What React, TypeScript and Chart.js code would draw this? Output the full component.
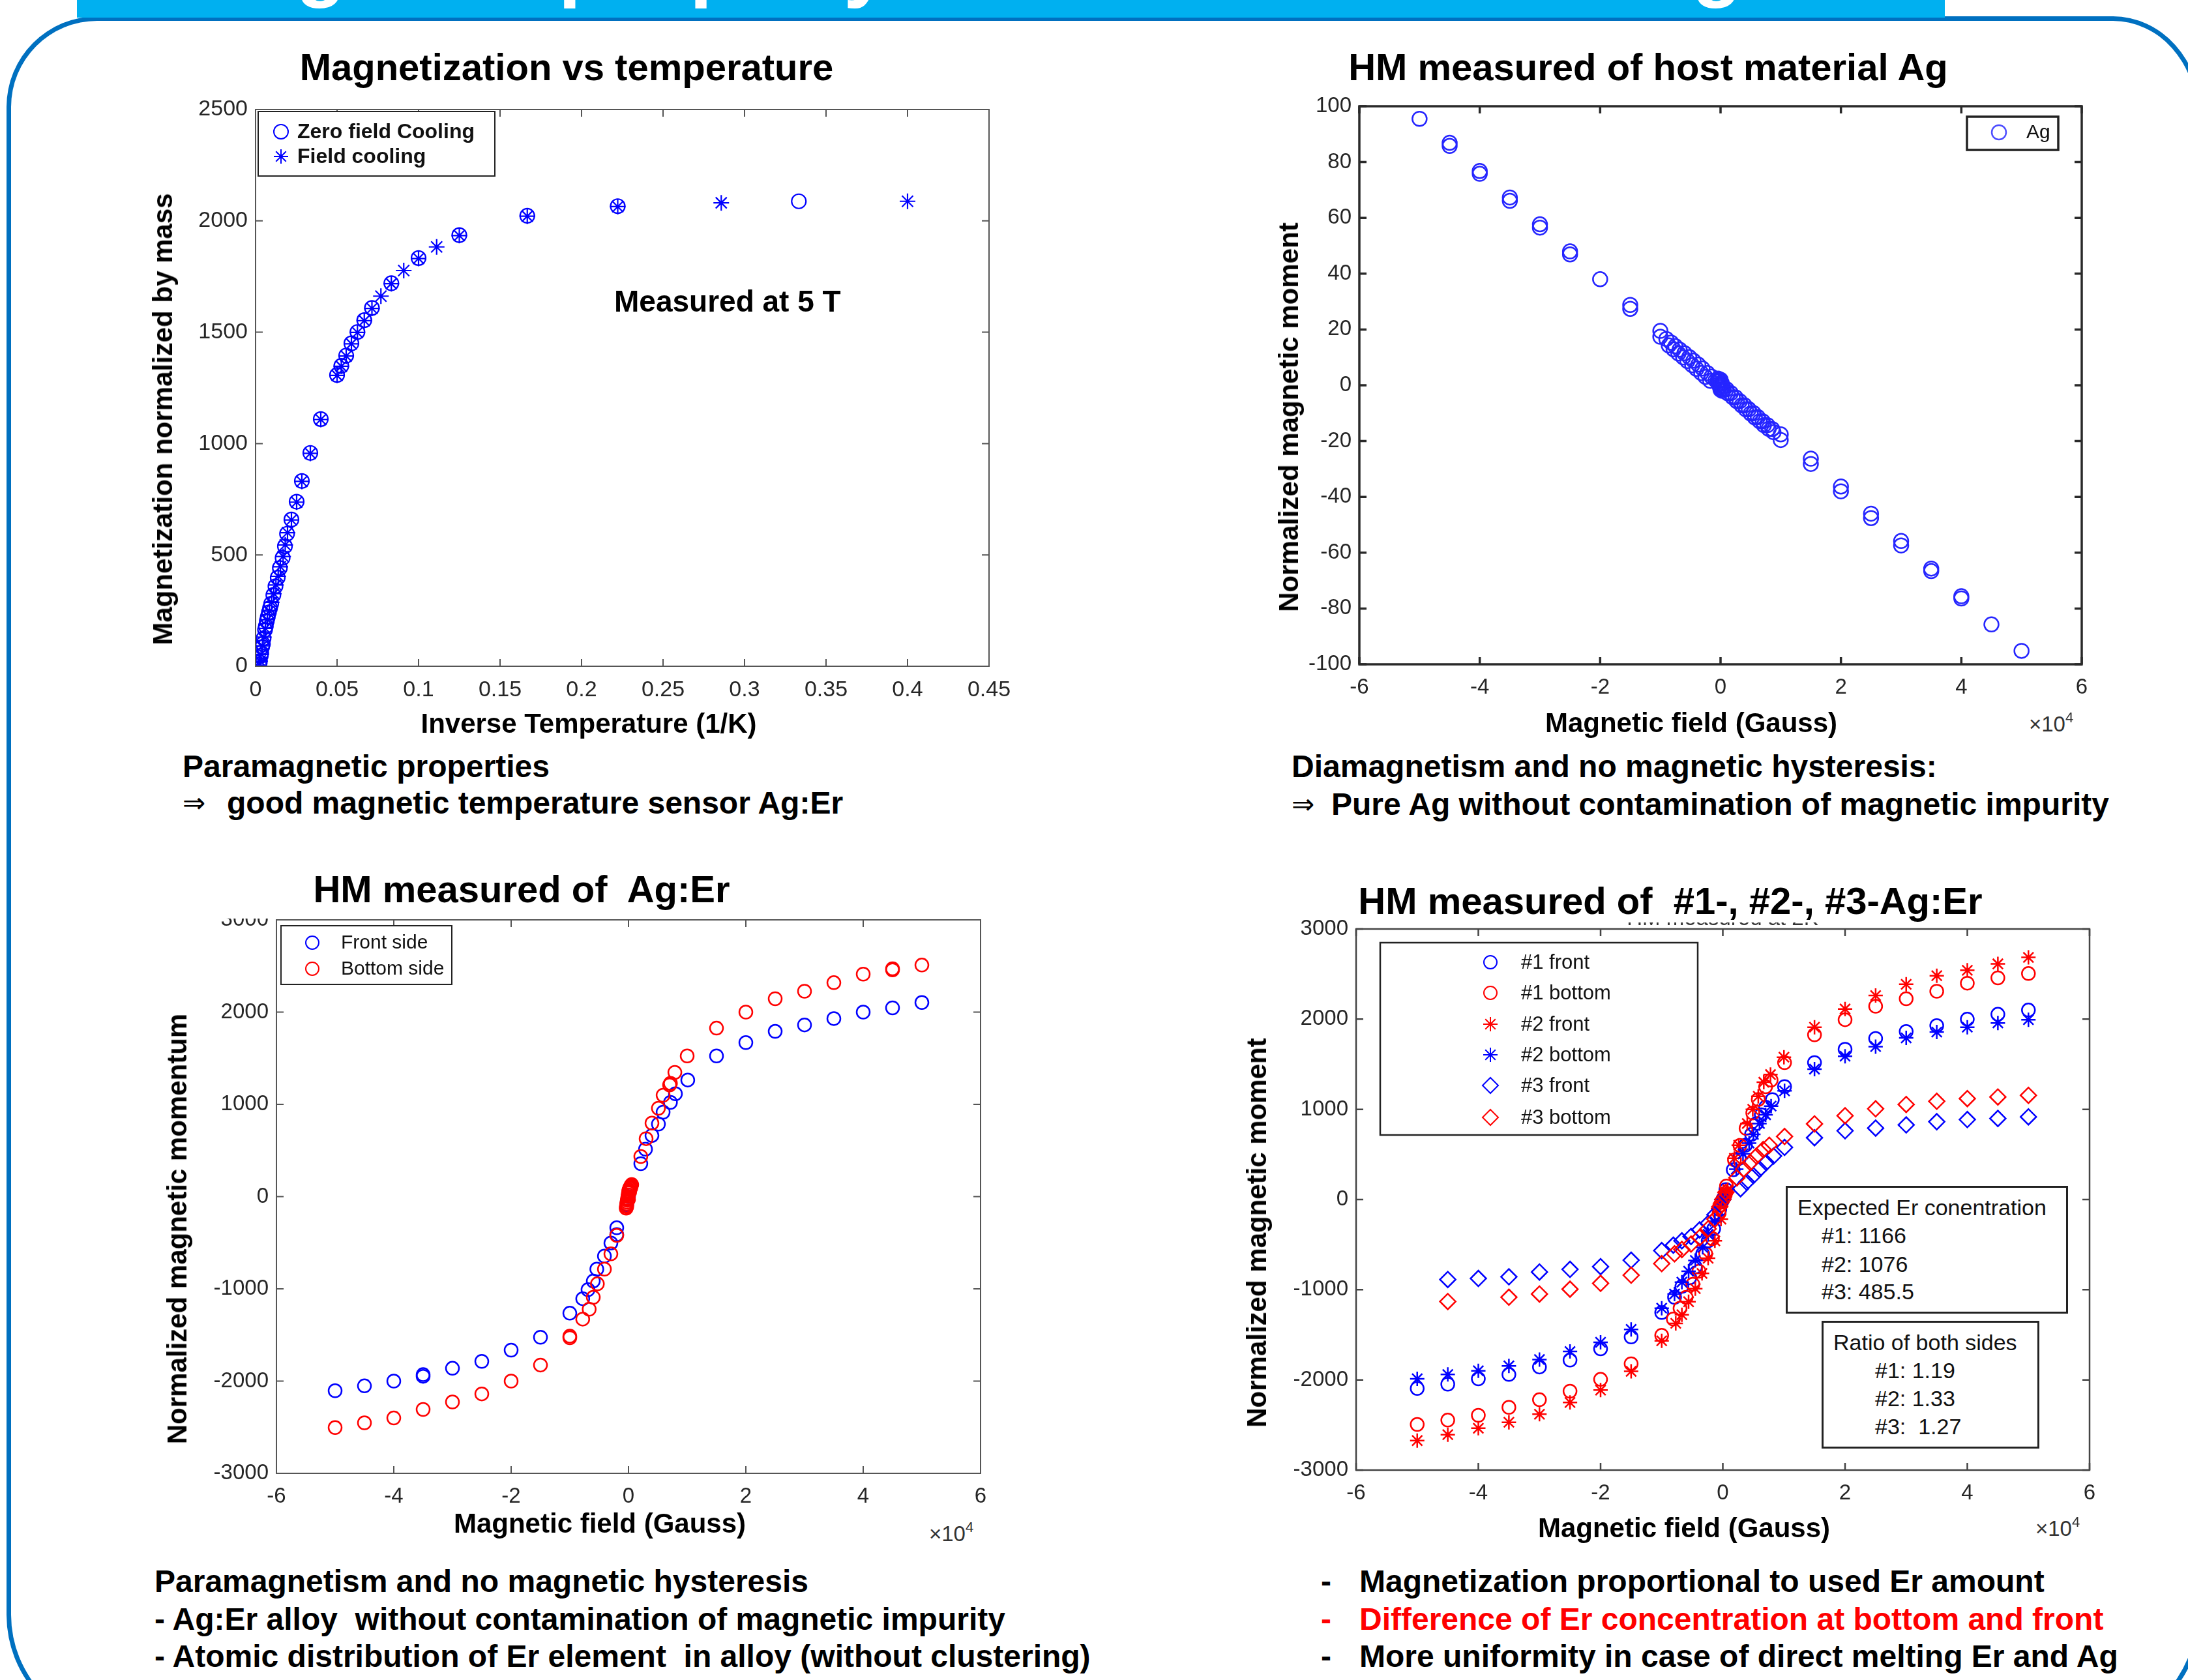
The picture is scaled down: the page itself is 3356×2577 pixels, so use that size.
import React, { useEffect, useRef } from 'react';
import { Chart, registerables } from 'chart.js';

Chart.register(...registerables);

type Pt = [number, number];
type Mk = 'circle' | 'star' | 'rectRot';

const BLUE = '#0000ff';
const RED = '#ff0000';
const FONT = "'Liberation Sans', Arial, Helvetica, sans-serif";

// ---------------- Chart 1 : Magnetization vs temperature ----------------
const c1XTicks = [0, 0.05, 0.1, 0.15, 0.2, 0.25, 0.3, 0.35, 0.4, 0.45];
const c1XLabels = ['0', '0.05', '0.1', '0.15', '0.2', '0.25', '0.3', '0.35', '0.4', '0.45'];
const c1YTicks = [0, 500, 1000, 1500, 2000, 2500];
const c1YLabels = ['0', '500', '1000', '1500', '2000', '2500'];
const c1ZeroFieldCooling: Pt[] = [
  [0.3333, 2088], [0.2222, 2066], [0.1667, 2023], [0.125, 1936], [0.1, 1833], [0.0833, 1720],
  [0.0714, 1609], [0.0667, 1554], [0.0625, 1501], [0.0588, 1450], [0.0556, 1395], [0.0526, 1349],
  [0.05, 1308], [0.04, 1110], [0.0336, 958], [0.0284, 832], [0.0252, 739], [0.022, 659],
  [0.0193, 595], [0.018, 539], [0.0166, 487], [0.0149, 441], [0.0136, 398], [0.0122, 359],
  [0.0109, 320], [0.0096, 281], [0.0089, 262], [0.0082, 242], [0.0075, 222], [0.0069, 203],
  [0.0063, 180], [0.0058, 164], [0.0049, 125], [0.0045, 100], [0.004, 86], [0.0035, 60],
  [0.0032, 47], [0.0026, 18], [0.0022, 8],
];
const c1FieldCooling: Pt[] = [
  [0.4, 2088], [0.2857, 2081], [0.2222, 2064], [0.1667, 2021], [0.125, 1934], [0.1111, 1883],
  [0.1, 1831], [0.0909, 1777], [0.0833, 1718], [0.0769, 1662], [0.0714, 1607], [0.0667, 1552],
  [0.0625, 1499], [0.0588, 1448], [0.0556, 1393], [0.0526, 1347], [0.05, 1306], [0.04, 1108],
  [0.0336, 956], [0.0284, 830], [0.0252, 737], [0.022, 657], [0.0196, 600], [0.0182, 545],
  [0.0169, 493], [0.0152, 447], [0.0139, 404], [0.0125, 365], [0.0112, 326], [0.0099, 287],
  [0.0085, 248], [0.0072, 209], [0.006, 170], [0.0051, 131], [0.0042, 92], [0.0034, 53],
  [0.0028, 24], [0.0024, 5],
];

// ---------------- Chart 2 : host material Ag ----------------
const fieldTicks = [-6, -4, -2, 0, 2, 4, 6];
const fieldLabels = ['-6', '-4', '-2', '0', '2', '4', '6'];
const c2YTicks = [-100, -80, -60, -40, -20, 0, 20, 40, 60, 80, 100];
const c2YLabels = ['-100', '-80', '-60', '-40', '-20', '0', '20', '40', '60', '80', '100'];
const c2Ag: Pt[] = [
  [-5, 95.5], [-4.5, 85.8], [-4.5, 86.9], [-4, 75.8], [-4, 76.8], [-3.5, 66.1], [-3.5, 67.3],
  [-3, 56.5], [-3, 57.7], [-2.5, 46.9], [-2.5, 48.0], [-2, 38.0], [-1.5, 27.4], [-1.5, 28.8],
  [-1, 17.4], [-1, 19.5],
  [-0.9, 16.6], [-0.82, 15.3], [-0.75, 14.0], [-0.68, 12.8], [-0.6, 11.5], [-0.52, 10.1],
  [-0.45, 8.8], [-0.37, 7.4], [-0.3, 6.0], [-0.22, 4.4], [-0.15, 3.1], [-0.08, 1.8],
  [-0.86, 14.3], [-0.78, 12.9], [-0.7, 11.4], [-0.62, 10.0], [-0.55, 8.7], [-0.47, 7.2],
  [-0.4, 5.9], [-0.32, 4.4], [-0.25, 3.0], [-0.17, 1.6],
  [-0.05, 1.2], [-0.04, 2.4], [-0.03, 0.4], [-0.02, 1.6], [-0.01, -0.6], [0, 0], [0, 2.0],
  [0, -1.6], [0.01, 0.6], [0.02, -1.2], [0.02, 0.8], [0.03, -2.0], [0.04, -0.4], [0.05, -1.4],
  [0.1, -1.4], [0.17, -2.8], [0.25, -4.3], [0.32, -5.7], [0.4, -7.2], [0.47, -8.6], [0.55, -10.0],
  [0.62, -11.4], [0.7, -12.9], [0.78, -14.3], [0.86, -15.7],
  [0.12, -2.9], [0.2, -4.3], [0.27, -5.7], [0.35, -7.2], [0.42, -8.6], [0.5, -10.1], [0.57, -11.5],
  [0.65, -12.9], [0.72, -14.3], [0.8, -15.6], [0.88, -16.8],
  [1, -17.6], [1, -19.6], [1.5, -26.3], [1.5, -28.2], [2, -36.3], [2, -38.0], [2.5, -46.0],
  [2.5, -47.6], [3, -55.8], [3, -57.4], [3.5, -65.7], [3.5, -66.6], [4, -75.6], [4, -76.4],
  [4.5, -85.7], [5, -95.2],
];

// ---------------- Chart 3 : Ag:Er ----------------
const c34YTicks = [-3000, -2000, -1000, 0, 1000, 2000, 3000];
const c34YLabels = ['-3000', '-2000', '-1000', '0', '1000', '2000', '3000'];
const c3FrontSide: Pt[] = [
  [-5, -2104], [-4.5, -2052], [-4, -2000], [-3.5, -1930], [-3.5, -1948], [-3, -1861], [-2.5, -1786],
  [-2, -1664], [-1.5, -1525], [-1, -1264], [-0.78, -1107], [-0.69, -1009], [-0.6, -916],
  [-0.54, -786], [-0.41, -645], [-0.3, -503], [-0.2, -338], [-0.2, -412],
  [-0.03, -90], [0, 0], [0.03, 90],
  [0.21, 357], [0.29, 514], [0.4, 663], [0.51, 786], [0.59, 915], [0.715, 1021], [0.8, 1115],
  [1.01, 1264], [1.5, 1525], [2, 1670], [2.5, 1791], [3, 1861], [3.5, 1930], [4, 2000],
  [4.5, 2046], [5, 2104],
];
const c3BottomSide: Pt[] = [
  [-5, -2504], [-4.5, -2452], [-4, -2400], [-3.5, -2307], [-3, -2226], [-2.5, -2139], [-2, -2000],
  [-1.5, -1826], [-1, -1513], [-1, -1530], [-0.78, -1328], [-0.67, -1221], [-0.6, -1092],
  [-0.53, -946], [-0.41, -786], [-0.3, -621], [-0.2, -420],
  [-0.04, -125], [-0.035, -100], [-0.03, -80], [-0.025, -60], [-0.02, -40], [-0.015, -20],
  [-0.01, 0], [-0.005, 20], [0, 40], [0.005, 60], [0.01, 75], [0.02, 90], [0.03, 105],
  [0.04, 115], [0.05, 125], [0.055, 130], [-0.03, -110], [0, -30], [0.02, 50], [0.04, 95],
  [0.21, 435], [0.3, 628], [0.4, 797], [0.51, 958], [0.59, 1099], [0.7, 1210], [0.715, 1228],
  [0.79, 1346], [1.0, 1525], [1.5, 1826], [2, 2000], [2.5, 2145], [3, 2226], [3.5, 2319],
  [4, 2412], [4.5, 2458], [4.5, 2470], [5, 2510],
];

// ---------------- Chart 4 : #1, #2, #3 Ag:Er ----------------
const c4Front1: Pt[] = [
  [-5, -2095], [-4.5, -2048], [-4, -1988], [-3.5, -1940], [-3, -1857], [-2.5, -1780], [-2, -1655],
  [-1.5, -1524], [-1, -1253], [-0.79, -1084], [-0.67, -964], [-0.54, -867], [-0.45, -747],
  [-0.33, -602], [-0.24, -458], [-0.15, -325], [-0.05, -110], [0, 0], [0.05, 110],
  [0.17, 330], [0.27, 458], [0.37, 602], [0.47, 723], [0.55, 843], [0.63, 940], [0.7, 1024],
  [0.81, 1108], [1.01, 1253], [1.5, 1518], [2, 1667], [2.5, 1786], [3, 1863], [3.5, 1929],
  [4, 2000], [4.5, 2054], [5, 2101],
];
const c4Bottom1: Pt[] = [
  [-5, -2494], [-4.5, -2446], [-4, -2393], [-3.5, -2304], [-3, -2220], [-2.5, -2125], [-2, -1994],
  [-1.5, -1821], [-1, -1506], [-0.81, -1325], [-0.7, -1205], [-0.6, -1084], [-0.49, -940],
  [-0.39, -795], [-0.28, -602], [-0.17, -434], [-0.06, -150], [-0.04, -60], [-0.02, -30], [0, 0],
  [0.02, 25], [0.04, 55], [0.06, 150],
  [0.19, 440], [0.28, 600], [0.38, 790], [0.49, 960], [0.58, 1110], [0.7, 1250], [0.79, 1325],
  [1.01, 1518], [1.5, 1827], [2, 1994], [2.5, 2143], [3, 2226], [3.5, 2310], [4, 2399],
  [4.5, 2458], [5, 2506],
];
const c4Front2: Pt[] = [
  [-5, -2673], [-4.5, -2607], [-4, -2536], [-3.5, -2470], [-3, -2381], [-2.5, -2250], [-2, -2113],
  [-1.5, -1905], [-1, -1566], [-0.77, -1373], [-0.67, -1277], [-0.56, -1133], [-0.45, -988],
  [-0.34, -819], [-0.24, -651], [-0.13, -458], [-0.03, -217], [-0.08, -100], [-0.04, -40],
  [0, 0], [0.02, 30], [0.04, 60], [0.06, 85], [0.08, 110],
  [0.19, 458], [0.26, 602], [0.4, 843], [0.49, 1000], [0.58, 1144], [0.67, 1301], [0.78, 1386],
  [1.0, 1578], [1.5, 1911], [2, 2113], [2.5, 2262], [3, 2387], [3.5, 2482], [4, 2542],
  [4.5, 2613], [5, 2685],
];
const c4Bottom2: Pt[] = [
  [-5, -1988], [-4.5, -1940], [-4, -1899], [-3.5, -1845], [-3, -1774], [-2.5, -1685], [-2, -1583],
  [-1.5, -1440], [-1, -1205], [-0.79, -1048], [-0.67, -916], [-0.56, -795], [-0.45, -675],
  [-0.33, -530], [-0.24, -386], [-0.13, -241], [0, 0],
  [0.22, 337], [0.33, 506], [0.43, 626], [0.5, 723], [0.6, 843], [0.7, 940], [0.79, 1036],
  [1.01, 1205], [1.5, 1446], [2, 1589], [2.5, 1696], [3, 1792], [3.5, 1857], [4, 1911],
  [4.5, 1958], [5, 1994],
];
const c4Front3: Pt[] = [
  [-4.5, -887], [-4, -875], [-3.5, -857], [-3, -804], [-2.5, -774], [-2, -744], [-1.5, -673],
  [-1, -566], [-0.81, -506], [-0.67, -458], [-0.52, -410], [-0.38, -337], [-0.24, -265],
  [-0.13, -169], [0, 0],
  [0.29, 120], [0.39, 193], [0.5, 265], [0.6, 337], [0.71, 410], [0.83, 482], [1.01, 578],
  [1.5, 685], [2, 762], [2.5, 792], [3, 827], [3.5, 863], [4, 887], [4.5, 899], [5, 917],
];
const c4Bottom3: Pt[] = [
  [-4.5, -1131], [-3.5, -1083], [-3, -1048], [-2.5, -994], [-2, -929], [-1.5, -839], [-1, -711],
  [-0.79, -602], [-0.67, -554], [-0.52, -494], [-0.38, -422], [-0.24, -325], [-0.13, -217],
  [-0.05, -80], [0, 0], [0.05, 80],
  [0.23, 241], [0.34, 337], [0.45, 410], [0.55, 482], [0.66, 554], [0.76, 602], [1.01, 699],
  [1.5, 839], [2, 929], [2.5, 1006], [3, 1054], [3.5, 1089], [4, 1119], [4.5, 1137], [5, 1155],
];

// ---------------- generic MATLAB-like scatter ----------------
interface Series { data: Pt[]; mk: Mk; color: string; r: number; bw: number; }
interface LegendItem { label: string; mk: Mk; color: string; r: number; bw: number; y: number; }
interface Legend {
  x1: number; y1: number; x2: number; y2: number; markerX: number; textX: number;
  fs: number; bold: boolean; lw: number; items: LegendItem[];
}
interface Plot {
  l: number; t: number; r: number; b: number;
  xMin: number; xMax: number; xTicks: number[]; xLabels: string[];
  yMin: number; yMax: number; yTicks: number[]; yLabels: string[];
  tickFs: number; boxColor: string; boxW: number; tickLen: number;
  series: Series[]; legend: Legend;
}

const PL = 150, PT = 40, PR = 70, PB = 70;

function drawMarker(ctx: CanvasRenderingContext2D, mk: Mk, x: number, y: number, r: number) {
  ctx.beginPath();
  if (mk === 'circle') {
    ctx.arc(x, y, r, 0, Math.PI * 2);
  } else if (mk === 'rectRot') {
    ctx.moveTo(x, y - r); ctx.lineTo(x + r, y); ctx.lineTo(x, y + r); ctx.lineTo(x - r, y); ctx.closePath();
  } else {
    const d = r * Math.SQRT1_2;
    ctx.moveTo(x - r, y); ctx.lineTo(x + r, y); ctx.moveTo(x, y - r); ctx.lineTo(x, y + r);
    ctx.moveTo(x - d, y - d); ctx.lineTo(x + d, y + d); ctx.moveTo(x - d, y + d); ctx.lineTo(x + d, y - d);
  }
  ctx.stroke();
}

function framePlugin(p: Plot) {
  return {
    id: 'matFrame',
    afterDraw(chart: any) {
      const { ctx, chartArea: a, scales } = chart;
      const ox = p.l - PL, oy = p.t - PT;
      ctx.save();
      ctx.strokeStyle = p.boxColor;
      ctx.lineWidth = p.boxW;
      ctx.beginPath();
      for (const v of p.xTicks) {
        const px = scales.x.getPixelForValue(v);
        ctx.moveTo(px, a.bottom); ctx.lineTo(px, a.bottom - p.tickLen);
        ctx.moveTo(px, a.top); ctx.lineTo(px, a.top + p.tickLen);
      }
      for (const v of p.yTicks) {
        const py = scales.y.getPixelForValue(v);
        ctx.moveTo(a.left, py); ctx.lineTo(a.left + p.tickLen, py);
        ctx.moveTo(a.right, py); ctx.lineTo(a.right - p.tickLen, py);
      }
      ctx.stroke();
      ctx.strokeRect(a.left, a.top, a.right - a.left, a.bottom - a.top);

      const lg = p.legend;
      ctx.fillStyle = '#fff';
      ctx.fillRect(lg.x1 - ox, lg.y1 - oy, lg.x2 - lg.x1, lg.y2 - lg.y1);
      ctx.lineWidth = lg.lw;
      ctx.strokeStyle = '#222';
      ctx.strokeRect(lg.x1 - ox, lg.y1 - oy, lg.x2 - lg.x1, lg.y2 - lg.y1);
      ctx.font = `${lg.bold ? 'bold ' : ''}${lg.fs}px ${FONT}`;
      ctx.textBaseline = 'middle';
      ctx.textAlign = 'left';
      for (const it of lg.items) {
        ctx.strokeStyle = it.color;
        ctx.lineWidth = it.bw;
        drawMarker(ctx, it.mk, lg.markerX - ox, it.y - oy, it.r);
        ctx.fillStyle = '#111';
        ctx.fillText(it.label, lg.textX - ox, it.y - oy + 1);
      }
      ctx.restore();
    },
  };
}

function MatChart({ p }: { p: Plot }) {
  const ref = useRef<HTMLCanvasElement>(null);
  const W = p.r - p.l + PL + PR;
  const H = p.b - p.t + PT + PB;
  useEffect(() => {
    const canvas = ref.current;
    if (!canvas) return;
    const chart = new Chart(canvas, {
      type: 'scatter',
      data: {
        datasets: p.series.map((s) => ({
          data: s.data.map(([x, y]) => ({ x, y })),
          pointStyle: s.mk,
          pointRadius: s.r,
          pointHoverRadius: s.r,
          pointBorderColor: s.color,
          borderColor: s.color,
          pointBackgroundColor: 'rgba(0,0,0,0)',
          backgroundColor: 'rgba(0,0,0,0)',
          pointBorderWidth: s.bw,
          borderWidth: s.bw,
          showLine: false,
        })),
      },
      options: {
        responsive: false,
        animation: false,
        devicePixelRatio: 1,
        events: [],
        layout: { padding: { top: PT, right: PR, left: 0, bottom: 0 } },
        plugins: { legend: { display: false }, tooltip: { enabled: false } },
        scales: {
          x: {
            type: 'linear', min: p.xMin, max: p.xMax,
            grid: { display: false, drawTicks: false },
            border: { display: false },
            ticks: {
              padding: 16, autoSkip: false, maxRotation: 0, color: '#262626',
              font: { size: p.tickFs, family: FONT },
              callback: (v: any) => { const i = p.xTicks.indexOf(Number(v)); return i >= 0 ? p.xLabels[i] : ''; },
            },
            afterBuildTicks: (s: any) => { s.ticks = p.xTicks.map((v) => ({ value: v })); },
            afterFit: (s: any) => { s.height = PB; },
          },
          y: {
            type: 'linear', min: p.yMin, max: p.yMax,
            grid: { display: false, drawTicks: false },
            border: { display: false },
            ticks: {
              padding: 12, autoSkip: false, color: '#262626',
              font: { size: p.tickFs, family: FONT },
              callback: (v: any) => { const i = p.yTicks.indexOf(Number(v)); return i >= 0 ? p.yLabels[i] : ''; },
            },
            afterBuildTicks: (s: any) => { s.ticks = p.yTicks.map((v) => ({ value: v })); },
            afterFit: (s: any) => { s.width = PL; },
          },
        },
      } as any,
      plugins: [framePlugin(p)],
    });
    return () => chart.destroy();
  }, []);
  return (
    <canvas
      ref={ref}
      width={W}
      height={H}
      style={{ position: 'absolute', left: p.l - PL, top: p.t - PT, width: W, height: H }}
    />
  );
}

// ---------------- plot configurations ----------------
const plot1: Plot = {
  l: 392, t: 168, r: 1517, b: 1022,
  xMin: 0, xMax: 0.45, xTicks: c1XTicks, xLabels: c1XLabels,
  yMin: 0, yMax: 2500, yTicks: c1YTicks, yLabels: c1YLabels,
  tickFs: 34, boxColor: '#555', boxW: 2, tickLen: 11,
  series: [
    { data: c1FieldCooling, mk: 'star', color: BLUE, r: 12, bw: 2.2 },
    { data: c1ZeroFieldCooling, mk: 'circle', color: BLUE, r: 11, bw: 2.2 },
  ],
  legend: {
    x1: 396, y1: 171, x2: 759, y2: 270, markerX: 431, textX: 456, fs: 32, bold: true, lw: 2,
    items: [
      { label: 'Zero field Cooling', mk: 'circle', color: BLUE, r: 11, bw: 2, y: 202 },
      { label: 'Field cooling', mk: 'star', color: BLUE, r: 11, bw: 2, y: 240 },
    ],
  },
};

const plot2: Plot = {
  l: 2085, t: 163, r: 3193, b: 1019,
  xMin: -6, xMax: 6, xTicks: fieldTicks, xLabels: fieldLabels,
  yMin: -100, yMax: 100, yTicks: c2YTicks, yLabels: c2YLabels,
  tickFs: 33, boxColor: '#2a2a2a', boxW: 3.5, tickLen: 11,
  series: [{ data: c2Ag, mk: 'circle', color: '#2525ff', r: 11, bw: 2.5 }],
  legend: {
    x1: 3017, y1: 179, x2: 3157, y2: 230, markerX: 3066, textX: 3108, fs: 30, bold: false, lw: 3.5,
    items: [{ label: 'Ag', mk: 'circle', color: '#4d4dff', r: 11, bw: 2.5, y: 203 }],
  },
};

const plot3: Plot = {
  l: 424, t: 1411, r: 1504, b: 2260,
  xMin: -6, xMax: 6, xTicks: fieldTicks, xLabels: fieldLabels,
  yMin: -3000, yMax: 3000, yTicks: c34YTicks, yLabels: c34YLabels,
  tickFs: 33, boxColor: '#555', boxW: 2, tickLen: 11,
  series: [
    { data: c3BottomSide, mk: 'circle', color: RED, r: 10, bw: 2.5 },
    { data: c3FrontSide, mk: 'circle', color: BLUE, r: 10, bw: 2.5 },
  ],
  legend: {
    x1: 431, y1: 1420, x2: 693, y2: 1510, markerX: 479, textX: 523, fs: 30, bold: false, lw: 2,
    items: [
      { label: 'Front side', mk: 'circle', color: BLUE, r: 10, bw: 2, y: 1446 },
      { label: 'Bottom side', mk: 'circle', color: RED, r: 10, bw: 2, y: 1486 },
    ],
  },
};

const plot4: Plot = {
  l: 2080, t: 1425, r: 3205, b: 2255,
  xMin: -6, xMax: 6, xTicks: fieldTicks, xLabels: fieldLabels,
  yMin: -3000, yMax: 3000, yTicks: c34YTicks, yLabels: c34YLabels,
  tickFs: 33, boxColor: '#444', boxW: 2.5, tickLen: 11,
  series: [
    { data: c4Bottom3, mk: 'rectRot', color: RED, r: 12, bw: 2.5 },
    { data: c4Front3, mk: 'rectRot', color: BLUE, r: 12, bw: 2.5 },
    { data: c4Bottom2, mk: 'star', color: BLUE, r: 11, bw: 2.5 },
    { data: c4Front2, mk: 'star', color: RED, r: 11, bw: 2.5 },
    { data: c4Bottom1, mk: 'circle', color: RED, r: 10, bw: 2.5 },
    { data: c4Front1, mk: 'circle', color: BLUE, r: 10, bw: 2.5 },
  ],
  legend: {
    x1: 2117, y1: 1446, x2: 2604, y2: 1741, markerX: 2286, textX: 2333, fs: 31, bold: false, lw: 2.5,
    items: [
      { label: '#1 front', mk: 'circle', color: BLUE, r: 10, bw: 2, y: 1476 },
      { label: '#1 bottom', mk: 'circle', color: RED, r: 10, bw: 2, y: 1523 },
      { label: '#2 front', mk: 'star', color: RED, r: 11, bw: 2, y: 1571 },
      { label: '#2 bottom', mk: 'star', color: BLUE, r: 11, bw: 2, y: 1618 },
      { label: '#3 front', mk: 'rectRot', color: BLUE, r: 12, bw: 2, y: 1665 },
      { label: '#3 bottom', mk: 'rectRot', color: RED, r: 12, bw: 2, y: 1714 },
    ],
  },
};

// ---------------- HTML text helpers ----------------
function Txt(props: {
  x: number; base: number; fs: number; bold?: boolean; color?: string; center?: boolean;
  family?: string; children: React.ReactNode;
}) {
  const { x, base, fs, bold = true, color = '#000', center = false, family = FONT, children } = props;
  const style: React.CSSProperties = {
    position: 'absolute', left: x, top: base - 0.8465 * fs, fontSize: fs, lineHeight: `${fs}px`,
    fontWeight: bold ? 700 : 400, color, whiteSpace: 'pre', fontFamily: family,
  };
  if (center) style.transform = 'translateX(-50%)';
  return <div style={style}>{children}</div>;
}

function YTitle({ cx, cy, children }: { cx: number; cy: number; children: React.ReactNode }) {
  return (
    <div
      style={{
        position: 'absolute', left: cx, top: cy, fontSize: 42, lineHeight: '42px', fontWeight: 700,
        whiteSpace: 'pre', fontFamily: FONT, transform: 'translate(-50%, -50%) rotate(-90deg)',
      }}
    >
      {children}
    </div>
  );
}

function Exp({ x, base }: { x: number; base: number }) {
  return (
    <Txt x={x} base={base} fs={33} bold={false} color="#333">
      ×10<span style={{ fontSize: 22, position: 'relative', top: -14 }}>4</span>
    </Txt>
  );
}

function Arrow({ x, base }: { x: number; base: number }) {
  return (
    <Txt x={x} base={base - 2} fs={42} bold={false} family="'DejaVu Sans', sans-serif">⇒</Txt>
  );
}

const CAP = 48;

export default function App() {
  useEffect(() => {
    document.body.style.margin = '0';
  }, []);
  return (
    <div
      style={{
        position: 'absolute', left: 0, top: 0, width: 3356, height: 2577, overflow: 'hidden',
        background: '#fff', fontFamily: FONT,
      }}
    >
      {/* slide frame */}
      <div
        style={{
          position: 'absolute', left: 10, top: 25, width: 3366, height: 2633, boxSizing: 'border-box',
          border: '7px solid #0070C0',
          borderRadius: '139px 135px 181px 181px / 139px 150px 181px 181px',
        }}
      />
      {/* header bar with cropped title */}
      <div
        style={{
          position: 'absolute', left: 118, top: 0, width: 2865, height: 27, background: '#00B0F0',
          overflow: 'hidden',
        }}
      >
        <div
          style={{
            position: 'absolute', left: 162, top: -119, fontSize: 125, lineHeight: '125px',
            fontWeight: 700, color: '#fff', whiteSpace: 'pre', fontFamily: FONT,
          }}
        >
          Magnetic property of sensor material Ag:Er
        </div>
      </div>

      <MatChart p={plot1} />
      <MatChart p={plot2} />
      <MatChart p={plot3} />
      <MatChart p={plot4} />

      {/* chart titles */}
      <Txt x={869} base={123} fs={58} center>Magnetization vs temperature</Txt>
      <Txt x={2528} base={123} fs={58} center>HM measured of host material Ag</Txt>
      <div style={{ position: 'absolute', left: 330, top: 1320, width: 880, height: 89, background: '#fff' }} />
      <Txt x={800} base={1384} fs={58} center>HM measured of  Ag:Er</Txt>
      <Txt x={2642} base={1419} fs={33} bold={false} color="#333" center>HM measured at 2K</Txt>
      <div style={{ position: 'absolute', left: 2078, top: 1330, width: 1000, height: 85, background: '#fff' }} />
      <Txt x={2562} base={1402} fs={58} center>HM measured of  #1-, #2-, #3-Ag:Er</Txt>

      {/* axis titles */}
      <Txt x={903} base={1125} fs={42} center>Inverse Temperature (1/K)</Txt>
      <Txt x={2594} base={1124} fs={42} center>Magnetic field (Gauss)</Txt>
      <Txt x={920} base={2352} fs={42} center>Magnetic field (Gauss)</Txt>
      <Txt x={2583} base={2359} fs={42} center>Magnetic field (Gauss)</Txt>
      <YTitle cx={250} cy={643}>Magnetization normalized by mass</YTitle>
      <YTitle cx={1977} cy={640}>Normalized magnetic moment</YTitle>
      <YTitle cx={272} cy={1885}>Normalized magnetic momentum</YTitle>
      <YTitle cx={1928} cy={1891}>Normalized magnetic moment</YTitle>
      <Exp x={3112} base={1122} />
      <Exp x={1425} base={2364} />
      <Exp x={3122} base={2356} />

      {/* annotations inside plots */}
      <Txt x={942} base={478} fs={46}>Measured at 5 T</Txt>
      <div
        style={{
          position: 'absolute', left: 2739, top: 1819, width: 433, height: 196, boxSizing: 'border-box',
          border: '3px solid #222', background: '#fff',
        }}
      />
      <Txt x={2757} base={1864} fs={34} bold={false} color="#111">Expected Er conentration</Txt>
      <Txt x={2794} base={1907} fs={34} bold={false} color="#111">#1: 1166</Txt>
      <Txt x={2794} base={1951} fs={34} bold={false} color="#111">#2: 1076</Txt>
      <Txt x={2794} base={1993} fs={34} bold={false} color="#111">#3: 485.5</Txt>
      <div
        style={{
          position: 'absolute', left: 2794, top: 2026, width: 334, height: 196, boxSizing: 'border-box',
          border: '3px solid #222', background: '#fff',
        }}
      />
      <Txt x={2812} base={2071} fs={34} bold={false} color="#111">Ratio of both sides</Txt>
      <Txt x={2876} base={2114} fs={34} bold={false} color="#111">#1: 1.19</Txt>
      <Txt x={2876} base={2157} fs={34} bold={false} color="#111">#2: 1.33</Txt>
      <Txt x={2876} base={2200} fs={34} bold={false} color="#111">#3:  1.27</Txt>

      {/* captions */}
      <Txt x={280} base={1193} fs={CAP}>Paramagnetic properties</Txt>
      <Arrow x={280} base={1249} />
      <Txt x={348} base={1249} fs={CAP}>good magnetic temperature sensor Ag:Er</Txt>

      <Txt x={1981} base={1193} fs={CAP}>Diamagnetism and no magnetic hysteresis:</Txt>
      <Arrow x={1981} base={1251} />
      <Txt x={2042} base={1251} fs={CAP}>Pure Ag without contamination of magnetic impurity</Txt>

      <Txt x={237} base={2443} fs={CAP}>Paramagnetism and no magnetic hysteresis</Txt>
      <Txt x={237} base={2501} fs={CAP}>- Ag:Er alloy  without contamination of magnetic impurity</Txt>
      <Txt x={237} base={2558} fs={CAP}>- Atomic distribution of Er element  in alloy (without clustering)</Txt>

      <Txt x={2026} base={2443} fs={CAP}>-</Txt>
      <Txt x={2085} base={2443} fs={CAP}>Magnetization proportional to used Er amount</Txt>
      <Txt x={2026} base={2501} fs={CAP} color={RED}>-</Txt>
      <Txt x={2085} base={2501} fs={CAP} color={RED}>Difference of Er concentration at bottom and front</Txt>
      <Txt x={2026} base={2558} fs={CAP}>-</Txt>
      <Txt x={2085} base={2558} fs={CAP}>More uniformity in case of direct melting Er and Ag</Txt>
    </div>
  );
}
